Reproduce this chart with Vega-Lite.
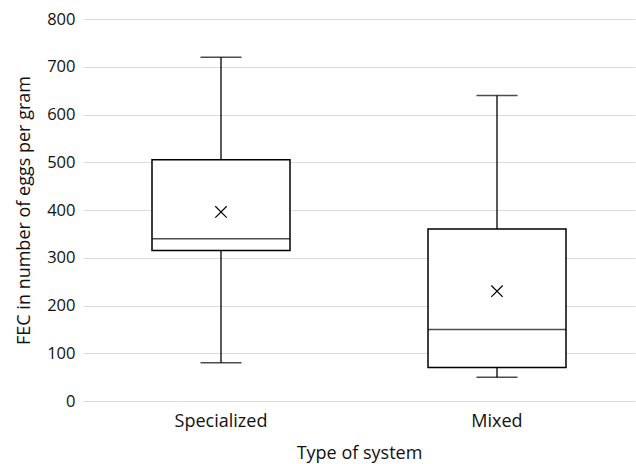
{
  "$schema": "https://vega.github.io/schema/vega-lite/v6.json",
  "width": 552,
  "height": 382,
  "autosize": "none",
  "padding": {"left": 83, "top": 19, "right": 1, "bottom": 63},
  "background": "white",
  "config": {"view": {"stroke": null}, "font": "Open Sans"},
  "data": {"values": [
    {"system": "Specialized", "min": 80, "q1": 315, "median": 340, "q3": 505, "max": 720, "mean": 396},
    {"system": "Mixed", "min": 50, "q1": 70, "median": 150, "q3": 360, "max": 640, "mean": 230}
  ]},
  "encoding": {
    "x": {
      "field": "system", "type": "nominal", "sort": ["Specialized", "Mixed"],
      "scale": {"paddingInner": 0, "paddingOuter": 0},
      "axis": {
        "title": "Type of system", "labelAngle": 0, "labelFontSize": 18, "labelColor": "#111",
        "labelPadding": 11, "titleFontSize": 18, "titleFontWeight": "normal", "titleColor": "#111",
        "titlePadding": 14, "domain": false, "ticks": false, "grid": false
      }
    }
  },
  "layer": [
    {
      "mark": {"type": "rule", "stroke": "black", "strokeWidth": 1.3},
      "encoding": {
        "y": {
          "field": "min", "type": "quantitative", "scale": {"domain": [0, 800]},
          "axis": {
            "title": "FEC in number of eggs per gram", "values": [0, 100, 200, 300, 400, 500, 600, 700, 800],
            "grid": true, "gridColor": "#dcdcdc", "gridWidth": 1, "domain": false, "ticks": false,
            "labelFontSize": 16.5, "labelColor": "#111", "labelPadding": 8,
            "titleFontSize": 18, "titleFontWeight": "normal", "titleColor": "#111", "titlePadding": 13
          }
        },
        "y2": {"field": "max"}
      }
    },
    {
      "mark": {"type": "tick", "color": "black", "size": 41, "thickness": 1.5},
      "encoding": {"y": {"field": "min", "type": "quantitative"}}
    },
    {
      "mark": {"type": "tick", "color": "black", "size": 41, "thickness": 1.5},
      "encoding": {"y": {"field": "max", "type": "quantitative"}}
    },
    {
      "mark": {"type": "bar", "fill": "white", "stroke": "black", "strokeWidth": 1.5, "width": 138},
      "encoding": {"y": {"field": "q1", "type": "quantitative"}, "y2": {"field": "q3"}}
    },
    {
      "mark": {"type": "tick", "color": "black", "size": 138, "thickness": 1.5},
      "encoding": {"y": {"field": "median", "type": "quantitative"}}
    },
    {
      "mark": {"type": "point", "shape": "M-1,-1L1,1M-1,1L1,-1", "filled": false, "stroke": "black", "strokeWidth": 1.2, "size": 130, "opacity": 1},
      "encoding": {"y": {"field": "mean", "type": "quantitative"}}
    }
  ]
}
